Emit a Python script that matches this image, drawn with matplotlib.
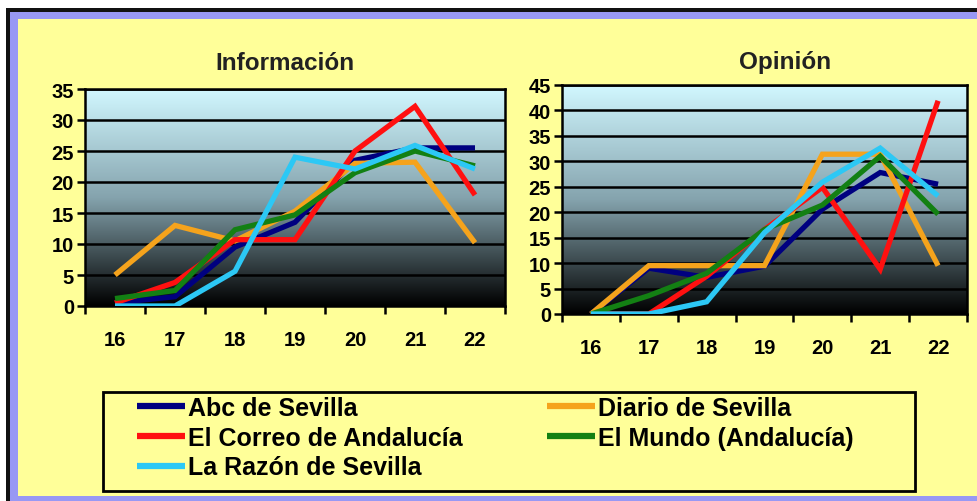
import numpy as np
import matplotlib
matplotlib.use("Agg")
import matplotlib.pyplot as plt
from matplotlib.patches import Rectangle
from matplotlib.ticker import FixedLocator

plt.rcParams['font.family'] = ['Liberation Sans', 'DejaVu Sans']
plt.rcParams['font.weight'] = 'bold'

categories = ["16", "17", "18", "19", "20", "21", "22"]
series_names = ["Abc de Sevilla", "Diario de Sevilla", "El Correo de Andalucía",
                "El Mundo (Andalucía)", "La Razón de Sevilla"]
colors = ["#000080", "#f5a31c", "#ff1010", "#138013", "#2cc8f5"]

info_abc = [0.5, 1.5, 9.5, 13.5, 23.5, 25.5, 25.5]
info_diario = [5, 13, 10.5, 15.3, 23, 23.2, 10.2]
info_correo = [0.5, 3.8, 10.7, 10.7, 25, 32.2, 17.9]
info_mundo = [1.2, 2.5, 12.3, 14.7, 21.5, 25, 22.6]
info_razon = [0, 0, 5.6, 24, 22.1, 25.9, 22.1]

opin_abc = [0, 9, 7.2, 9.4, 20.6, 27.8, 25.5]
opin_diario = [0, 9.5, 9.5, 9.5, 31.4, 31.4, 9.5]
opin_correo = [0, 0, 7.4, 16.6, 24.9, 8.8, 41.9]
opin_mundo = [0, 3.6, 8, 16.6, 21.4, 31, 19.6]
opin_razon = [0, 0, 2.4, 16, 25.9, 32.6, 23.2]

info_title = "Información"
opin_title = "Opinión"
info_yticks = list(range(0, 36, 5))
opin_yticks = list(range(0, 46, 5))

W, H = 977, 502
fig = plt.figure(figsize=(W / 100, H / 100), dpi=100)
fig.patch.set_facecolor("white")

def px_rect(x0, y0, x1, y1, face, z, edge="none", lw=0):
    fig.patches.append(Rectangle((x0 / W, 1 - y1 / H), (x1 - x0) / W, (y1 - y0) / H,
                                 transform=fig.transFigure, facecolor=face,
                                 edgecolor=edge, linewidth=lw, zorder=z))

px_rect(6, 9, W, H, "#111111", -10)
px_rect(10, 13, W, H, "#9898f4", -9)
px_rect(18, 20, W, 497, "#ffff99", -8)
px_rect(103, 393, 915, 492, "none", 5, edge="black", lw=2)

grad = np.linspace(0, 1, 256)
top = np.array([0.82, 0.97, 1.0])
mid = np.array([0.52, 0.64, 0.68])
bot = np.array([0.0, 0.0, 0.0])
rows = []
for t in grad:
    if t < 0.5:
        c = top + (mid - top) * (t / 0.5)
    else:
        c = mid + (bot - mid) * ((t - 0.5) / 0.5)
    rows.append(c)
img = np.array(rows).reshape(-1, 1, 3)

def make_panel(rect, data, yticks, title, title_xy):
    ax = fig.add_axes(rect)
    x = np.arange(len(categories))
    ymax = yticks[-1]
    ax.imshow(img, aspect="auto", extent=(-0.5, len(categories) - 0.5, 0, ymax),
              origin="upper", zorder=0)
    lines = []
    for vals, col, name in zip(data, colors, series_names):
        ln, = ax.plot(x, vals, color=col, lw=3.8, solid_joinstyle="miter",
                      solid_capstyle="butt", zorder=3, label=name)
        lines.append(ln)
    ax.set_xlim(-0.5, len(categories) - 0.5)
    ax.set_ylim(0, ymax)
    ax.set_yticks(yticks)
    ax.set_yticklabels([str(v) for v in yticks], fontsize=14.5, fontweight="bold")
    for v in yticks:
        ax.axhline(v, color="black", lw=1.8, zorder=2)
    ax.set_xticks(x)
    ax.set_xticklabels(categories, fontsize=14.5, fontweight="bold")
    ax.xaxis.set_minor_locator(FixedLocator(np.arange(-0.5, len(categories), 1.0)))
    ax.tick_params(axis="x", which="major", length=0, pad=17)
    ax.tick_params(axis="x", which="minor", length=6, width=1.8, direction="out")
    ax.tick_params(axis="y", which="major", length=6, width=1.8, direction="out", pad=2)
    for s in ax.spines.values():
        s.set_color("black")
        s.set_linewidth(1.8)
    ax.set_facecolor("none")
    fig.text(title_xy[0] / W, 1 - title_xy[1] / H, title, fontsize=17.5,
             fontweight="bold", ha="center", va="center", color="#222222")
    return lines

lines = make_panel([85 / W, 1 - 307 / H, 420 / W, 217 / H],
                   [info_abc, info_diario, info_correo, info_mundo, info_razon],
                   info_yticks, info_title, (285, 63))
make_panel([562 / W, 1 - 315 / H, 405 / W, 229 / H],
           [opin_abc, opin_diario, opin_correo, opin_mundo, opin_razon],
           opin_yticks, opin_title, (785, 63))

order = [0, 2, 4, 1, 3]
leg = fig.legend([lines[i] for i in order], [series_names[i] for i in order],
                 ncol=2, loc="upper left", bbox_to_anchor=(137 / W, 1 - 397 / H),
                 bbox_transform=fig.transFigure, frameon=False,
                 prop={"weight": "bold", "size": 18},
                 handlelength=1.9, handletextpad=0.12, columnspacing=3.4,
                 labelspacing=0.23, borderpad=0, borderaxespad=0)
for h in leg.legend_handles:
    h.set_linewidth(4.5)

fig.savefig("out.png", dpi=100, facecolor=fig.get_facecolor())
